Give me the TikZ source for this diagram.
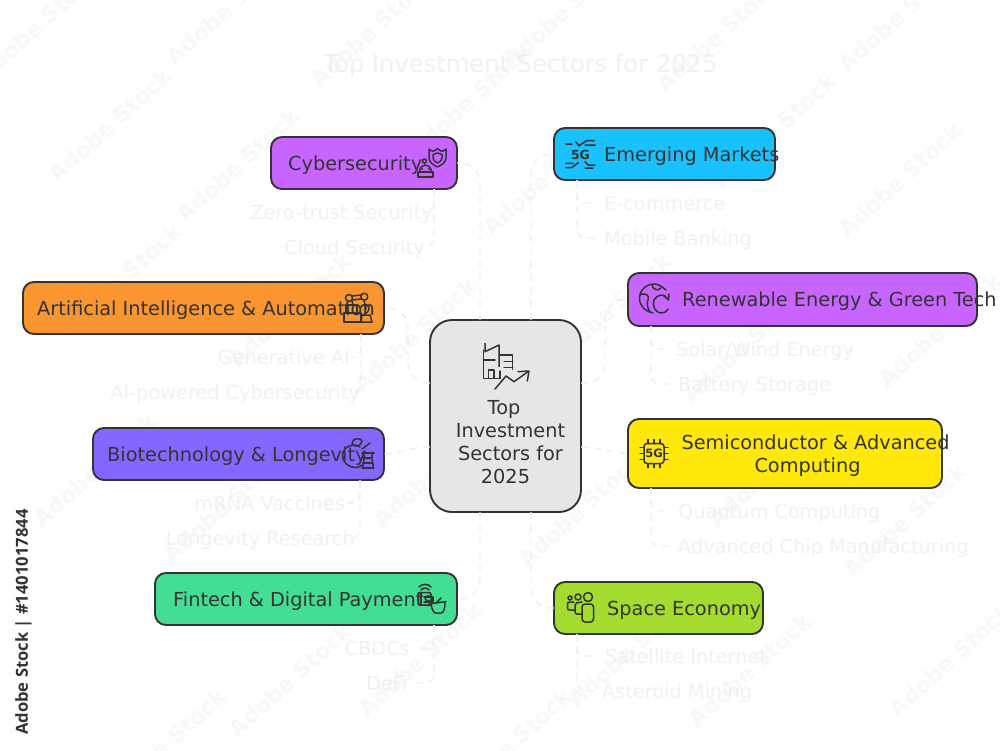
\documentclass[tikz,border=0pt]{standalone}
\usepackage{fontspec}
\setmainfont{DejaVu Sans}
\newfontfamily\stockfont{Open Sans}
\usetikzlibrary{calc}
\definecolor{ink}{HTML}{333333}
\definecolor{faint}{HTML}{F1F1F1}
\definecolor{wm}{HTML}{F8F8F8}
\definecolor{conn}{HTML}{EFEFEF}
\definecolor{cpurple}{HTML}{C864FF}
\definecolor{cblue}{HTML}{19C2FF}
\definecolor{corange}{HTML}{FB9530}
\definecolor{cviolet}{HTML}{8566FF}
\definecolor{cyellow}{HTML}{FFE80A}
\definecolor{cgreen}{HTML}{43DE94}
\definecolor{clime}{HTML}{A3DC2E}
\definecolor{cgrey}{HTML}{E6E6E6}
\tikzset{
 x=1pt,y=-1pt,
 sector/.style={draw=ink,line width=1.9pt,rounded corners=11pt,inner sep=0pt,outer sep=0pt},
 sectortext/.style={text=ink,font=\fontsize{19.3}{23}\selectfont,inner sep=0pt,align=center},
 oneline/.style={text height=16.5pt,text depth=2.5pt},
 sub/.style={text=faint,font=\fontsize{19.3}{23}\selectfont,inner sep=0pt,oneline},
 wmark/.style={text=wm,font=\fontsize{22}{22}\selectfont\bfseries,rotate=42,inner sep=0pt},
 link/.style={draw=conn,line width=1.4pt,dash pattern=on 7pt off 6pt,rounded corners=20pt},
 childlink/.style={draw=conn,line width=1.4pt,dash pattern=on 7pt off 6pt,rounded corners=9pt},
 icon/.style={draw=ink,line width=1.5pt,line join=round,line cap=round},
}
\newcommand{\secbox}[6]{% name fill x1 y1 x2 y2
 \node[sector,fill=#2,minimum width=#5 pt-#3 pt,minimum height=#6 pt-#4 pt,anchor=north west] (#1) at (#3,#4) {};}
\begin{document}
\begin{tikzpicture}
\useasboundingbox (0,0) rectangle (1000,750);
\fill[white] (0,0) rectangle (1000,750);
% watermark
\foreach \wx/\wy [count=\wi] in {38/25,110/125,238/165,228/8,372/30,470/100,565/10,718/35,775/130,900/180,900/15,
 545/178,290/310,415/335,610/310,745/345,940/330,120/280,
 95/470,225/505,435/470,580/510,770/470,905/520,
 290/680,420/660,630/650,750/670,950/660,510/745,165/745}
 {\node[wmark] (w\wi) at (\wx,\wy) {Adobe Stock};}
% title
\node[text=faint,font=\fontsize{24.2}{28}\selectfont,inner sep=0pt,oneline] (title) at (520.5,65) {Top Investment Sectors for 2025};
% boxes
\secbox{cyber}{cpurple}{271}{137}{457}{189}
\secbox{emerging}{cblue}{554}{128}{775}{180}
\secbox{ai}{corange}{23}{282}{384}{334}
\secbox{renew}{cpurple}{628}{273}{977}{326}
\secbox{semi}{cyellow}{628}{419}{942}{488}
\secbox{bio}{cviolet}{93}{428}{384}{480}
\secbox{fin}{cgreen}{155}{573}{457}{625}
\secbox{space}{clime}{554}{582}{763}{634}
\node[sector,rounded corners=22pt,fill=cgrey,minimum width=151pt,minimum height=192pt,anchor=north west] (hub) at (430,320) {};
% box texts
\node[sectortext,oneline,anchor=west] (tcyber) at (288,163) {Cybersecurity};
\node[sectortext,oneline,anchor=west] (temerging) at (604,154) {Emerging Markets};
\node[sectortext,oneline,anchor=west] (tai) at (37,308) {Artificial Intelligence \& Automation};
\node[sectortext,oneline,anchor=west] (trenew) at (682,299.5) {Renewable Energy \& Green Tech};
\node[sectortext] (tsemi) at (815.5,456) {Semiconductor \& Advanced\\Computing\hspace*{16pt}};
\node[sectortext,oneline,anchor=west] (tbio) at (107,454) {Biotechnology \& Longevity};
\node[sectortext,oneline,anchor=west] (tfin) at (173,599) {Fintech \& Digital Payments};
\node[sectortext,oneline,anchor=west] (tspace) at (607,608) {Space Economy};
\node[sectortext] (thub) at (510.5,442) {Top\hspace*{13pt}\\Investment\\Sectors for\hspace*{3pt}\\2025\hspace*{10pt}};
% sub items
\node[sub,anchor=east] (zt) at (433,212) {Zero-trust Security};
\node[sub,anchor=east] (cloud) at (425,247) {Cloud Security};
\node[sub,anchor=west] (ecom) at (604,203) {E-commerce};
\node[sub,anchor=west] (mobile) at (604,238) {Mobile Banking};
\node[sub,anchor=east] (gen) at (350,357) {Generative AI};
\node[sub,anchor=east] (aicy) at (360,392) {AI-powered Cybersecurity};
\node[sub,anchor=west] (solar) at (676,349) {Solar/Wind Energy};
\node[sub,anchor=west] (batt) at (678,384) {Battery Storage};
\node[sub,anchor=west] (quant) at (678,511) {Quantum Computing};
\node[sub,anchor=west] (chip) at (678,546) {Advanced Chip Manufacturing};
\node[sub,anchor=east] (mrna) at (345,503) {mRNA Vaccines};
\node[sub,anchor=east] (longr) at (355,538) {Longevity Research};
\node[sub,anchor=east] (cbdc) at (410,648) {CBDCs};
\node[sub,anchor=east] (defi) at (408,683) {DeFi};
\node[sub,anchor=west] (sat) at (605,656) {Satellite Internet};
\node[sub,anchor=west] (ast) at (602,691) {Asteroid Mining};
% hub links
\draw[link] ([xshift=50pt]hub.north west) |- (cyber.east);
\draw[link] ([xshift=101pt]hub.north west) |- (emerging.west);
\draw[link] ([yshift=-63pt]hub.north east) -| ([xshift=-23pt]renew.west) -- (renew.west);
\draw[link] ([yshift=-127pt]hub.north east) .. controls (600,447) and (610,453) .. (semi.west);
\draw[link] ([yshift=-63pt]hub.north west) -| ([xshift=24pt]ai.east) -- (ai.east);
\draw[link] ([yshift=-127pt]hub.north west) .. controls (410,447) and (405,453) .. (bio.east);
\draw[link] ([xshift=50pt]hub.south west) |- (fin.east);
\draw[link] ([xshift=101pt]hub.south west) |- (space.west);
% child links
\draw[childlink] ([xshift=163pt]cyber.south west) |- (zt.east);
\draw[childlink] ([xshift=163pt]cyber.south west) |- (cloud.east);
\draw[childlink] ([xshift=23pt]emerging.south west) |- ([xshift=-8pt]ecom.west);
\draw[childlink] ([xshift=23pt]emerging.south west) |- ([xshift=-8pt]mobile.west);
\draw[childlink] ([xshift=338pt]ai.south west) |- ([xshift=5pt]gen.east);
\draw[childlink] ([xshift=338pt]ai.south west) |- (aicy.east);
\draw[childlink] ([xshift=23pt]renew.south west) |- ([xshift=-8pt]solar.west);
\draw[childlink] ([xshift=23pt]renew.south west) |- ([xshift=-8pt]batt.west);
\draw[childlink] ([xshift=23pt]semi.south west) |- ([xshift=-8pt]quant.west);
\draw[childlink] ([xshift=23pt]semi.south west) |- ([xshift=-8pt]chip.west);
\draw[childlink] ([xshift=267pt]bio.south west) |- (mrna.east);
\draw[childlink] ([xshift=267pt]bio.south west) |- (longr.east);
\draw[childlink] ([xshift=279pt]fin.south west) |- ([xshift=6pt]cbdc.east);
\draw[childlink] ([xshift=279pt]fin.south west) |- ([xshift=6pt]defi.east);
\draw[childlink] ([xshift=23pt]space.south west) |- ([xshift=-8pt]sat.west);
\draw[childlink] ([xshift=23pt]space.south west) |- ([xshift=-8pt]ast.west);
% --- icons (absolute picture coordinates) ---
% hub building and chart
\begin{scope}[icon]
 \draw (485,343.3) -- (485,351.7) -- (499,345) -- (499,366.7);
 \draw (483.3,350) -- (483.3,378.3) -- (500,378.3) -- (500,371);
 \draw (483.3,360) -- (495,360);
 \draw (488.3,378.3) -- (488.3,370) -- (494,370) -- (494,378.3);
 \draw (499,355) -- (512.7,355) -- (512.7,369.3);
 \draw (504,361.7) -- (512.7,361.7) (504,367.3) -- (512.7,367.3);
 \draw (495,389) -- (506,376) -- (514,381.7) -- (528,371.7);
 \draw (518,371.7) -- (529,371) -- (527.3,381);
\end{scope}
% shield + robot
\begin{scope}[icon]
 \draw (429,149) .. controls (432,152) and (434,152) .. (437.5,148.5) .. controls (441,152) and (443,152) .. (446,149) -- (446,158) .. controls (446,162) and (442,165) .. (437.5,167) .. controls (433,165) and (429,162) .. (429,158) -- cycle;
 \draw (437.5,153) -- (442,154.5) -- (442,158) .. controls (442,160) and (440,162) .. (437.5,163) .. controls (435,162) and (433,160) .. (433,158) -- (433,154.5) -- cycle;
 \draw (419.5,172) .. controls (419.5,163) and (431.5,163) .. (431.5,172);
 \draw (418,172) rectangle (433,177);
 \draw (424.5,165) -- (424.5,163);
 \draw (424.5,161) circle (2pt);
 \fill[ink] (422,169) circle (1.1pt) (429,169) circle (1.1pt);
\end{scope}
% 5G signal
\begin{scope}[icon]
 \node[text=ink,font=\fontsize{12.5}{12.5}\selectfont\bfseries,inner sep=0pt] (fg) at (580.5,155) {5G};
 \draw (566,144) -- (572,144) (575.7,141.7) -- (579.3,146);
 \draw (580,145) -- (586.7,140.7) -- (594.3,140.7) (585,145) -- (595,145);
 \draw (566,163.3) -- (573.3,163.3) (566,167.7) -- (571.7,167.7) -- (578.3,162.7);
 \draw (585,161.7) -- (588.3,165) -- (595,165) (585,168) -- (593,168);
\end{scope}
% globe with arrow
\begin{scope}[icon]
 \draw (666,290) .. controls (661,285.5) and (657,284) .. (654,284) .. controls (646,284) and (639.5,290.5) .. (639.5,298.3) .. controls (639.5,306) and (646,312.5) .. (653,312.8);
 \draw (640,295) .. controls (646,292) and (650,296) .. (648,300) .. controls (646,304) and (648,309) .. (650,312);
 \draw (652,285) .. controls (653,290) and (658,291) .. (661,288);
 \draw (668,299) .. controls (665,293) and (657,294) .. (654,300) .. controls (652,306) and (655,313) .. (662,313) .. controls (665,313) and (667,311) .. (668,309);
 \draw (664,296) -- (668.5,300) -- (669,294);
\end{scope}
% chip
\begin{scope}[icon]
 \draw[rounded corners=3pt] (644,443.5) rectangle (664,463.5);
 \foreach \k in {-6,0,6} {\draw (654+\k,443.5) -- (654+\k,439.5) (654+\k,463.5) -- (654+\k,467.5) (644,453.5+\k) -- (640,453.5+\k) (664,453.5+\k) -- (668,453.5+\k);}
 \node[text=ink,font=\fontsize{11.5}{11.5}\selectfont\bfseries,inner sep=0pt] (cg) at (654,453.5) {5G};
\end{scope}
% people
\begin{scope}[icon]
 \draw (588,597) circle (4.5pt) (578,597) circle (3pt) (570,598) circle (2pt);
 \draw[rounded corners=3pt] (582,622) -- (582,604) -- (593.5,604) -- (593.5,622) -- cycle;
 \draw[rounded corners=2pt] (582,614) -- (575,614) -- (575,603) -- (582,602);
 \draw[rounded corners=2pt] (575,610) -- (567.5,610) -- (567.5,602) -- (574,602);
\end{scope}
% robot arm
\begin{scope}[icon]
 \draw (344,313) rectangle (361,322) (346,305) rectangle (357,313);
 \draw (349,298) circle (3.5pt) (364.3,296.7) circle (3.5pt);
 \draw (347,302) -- (347,305) (352,301) -- (353,305) (352,296) -- (361,295) (352,300) -- (361,299);
 \draw (364,300) -- (366,309);
 \draw (361,322) -- (372,322) -- (370,315) -- (362,315) -- cycle;
 \draw (361,307) .. controls (363,303) and (369,304) .. (369,308) .. controls (369,312) and (365,314) .. (363,315);
\end{scope}
% bio
\begin{scope}[icon]
 \draw (360,447) .. controls (353,442) and (343,447) .. (342.5,455) .. controls (342,462) and (349,468) .. (356,467.5) .. controls (359,467.5) and (361,466) .. (362,465);
 \draw (352,443) .. controls (353,437) and (361,438) .. (362,441) .. controls (362,445) and (355,449) .. (352,443);
 \draw (362,449) -- (370,443);
 \draw (363,452) .. controls (366,458) and (362,463) .. (363,468) (373,452) .. controls (370,458) and (374,463) .. (373,468);
 \draw (362,453) -- (374,453) (364,458) -- (372,458) (364,463) -- (372,463) (362,468) -- (374,468);
\end{scope}
% wallet, wifi, basket
\begin{scope}[icon]
 \draw[rounded corners=2pt] (418,592.5) rectangle (431,605);
 \draw (421,592.5) -- (421,605) (424,597) -- (433,597) -- (433,602) -- (424,602);
 \draw (421,590) .. controls (423,587.5) and (427,587.5) .. (429,590) (419,587) .. controls (422,583.5) and (428,583.5) .. (431,587);
 \draw (429,604) -- (446,601.5);
 \draw (431,604) .. controls (432,609) and (433,613) .. (436,613) -- (441,613) .. controls (444,613) and (445,608) .. (445,602);
 \draw (436,603) -- (441,598);
\end{scope}
% stock id
\node[text=ink,font=\stockfont\fontsize{16.6}{17}\selectfont\bfseries,rotate=90,inner sep=0pt,anchor=west] (stock) at (23.5,735) {Adobe Stock | \#1401017844};
\end{tikzpicture}
\end{document}
